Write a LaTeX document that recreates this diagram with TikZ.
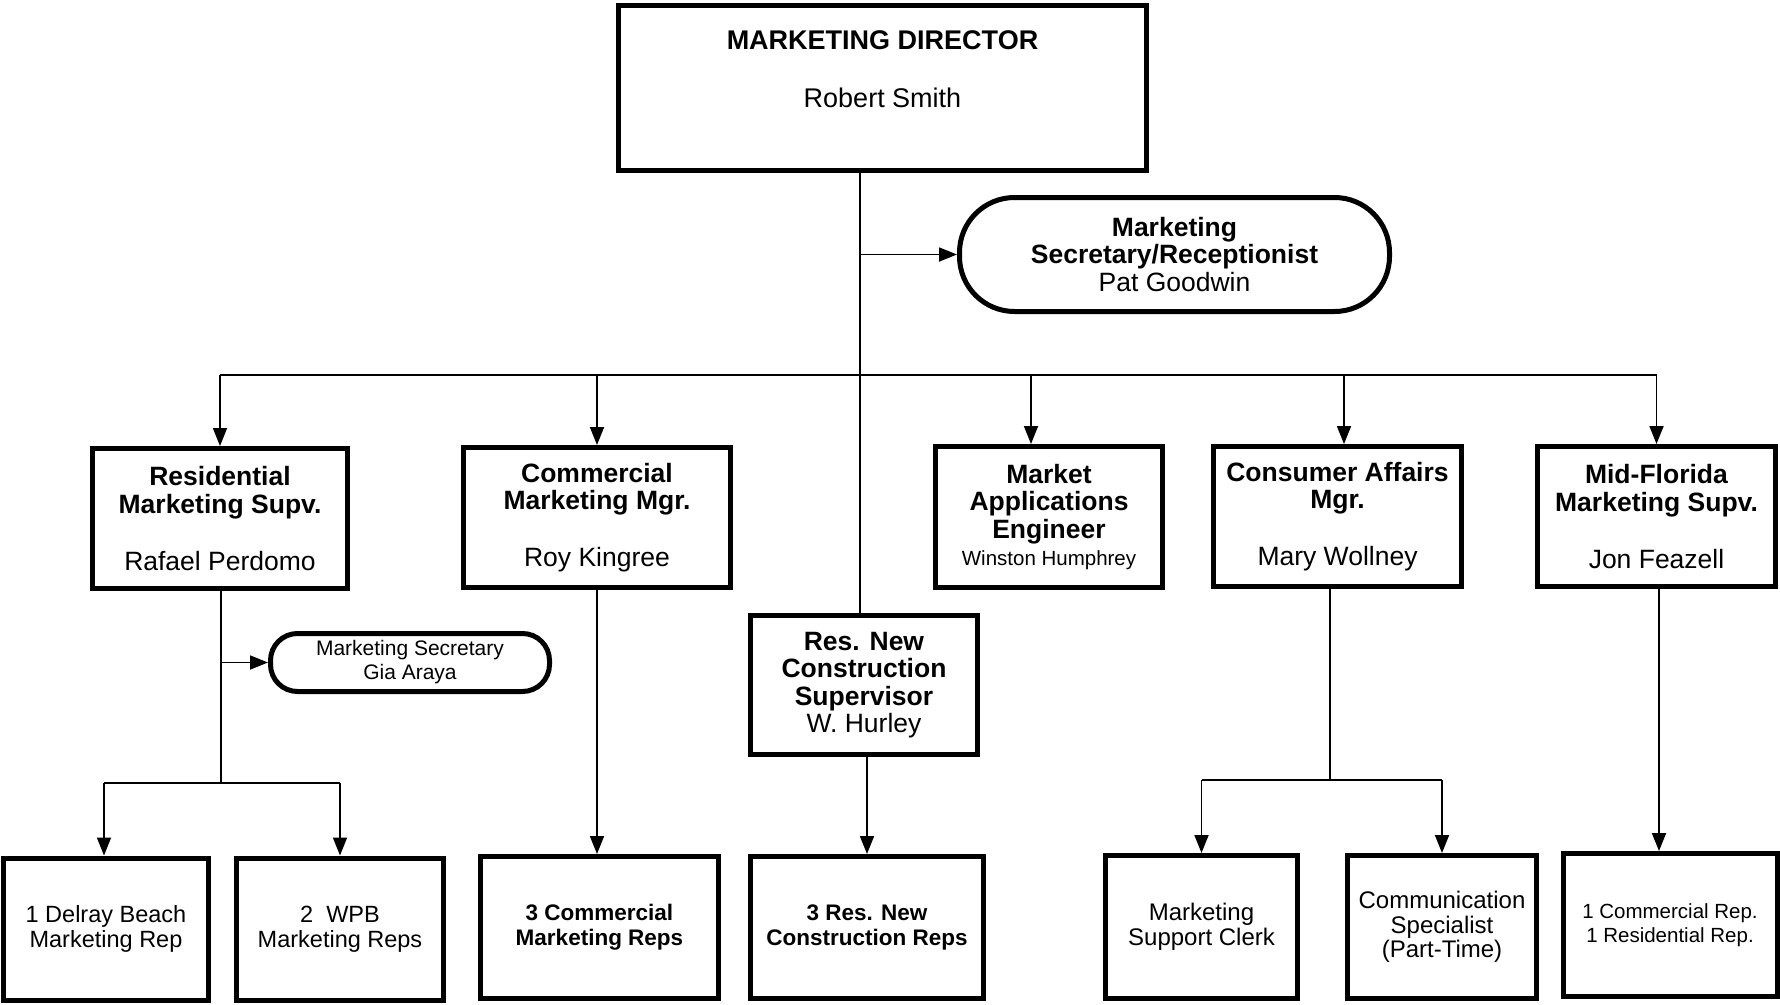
\documentclass[tikz,border=0pt]{standalone}
\usepackage{fontspec}
\setmainfont{Liberation Sans}
\usetikzlibrary{arrows.meta}

\begin{document}
\begin{tikzpicture}[x=1pt,y=-1pt,
  box/.style={draw, line width=5pt, fill=white, align=center, inner sep=0pt},
  pill/.style={draw, line width=5pt, fill=white, align=center, inner sep=0pt},
  link/.style={line width=1.8pt},
  arr/.style={link, -{Triangle[length=18pt,width=14pt]}},
  head/.style={font=\fontsize{26.5}{27.5}\selectfont},
  dirfont/.style={font=\fontsize{27}{28}\selectfont},
  smallpill/.style={font=\fontsize{21}{24}\selectfont},
  rep/.style={font=\fontsize{23.5}{25}\selectfont},
]
\useasboundingbox (0,0) rectangle (1780,1004);

% ---- top level ----
\node[box, minimum width=528pt, minimum height=165pt] (dir) at (882.5,88) {};
\node[dirfont, align=center] (dirtxt) at (882.5,69)
  {\textbf{MARKETING DIRECTOR}\\[30pt]Robert Smith};

\node[pill, rounded corners=55pt, minimum width=430pt, minimum height=114pt, head] (sec) at (1174.5,254.5)
  {\textbf{Marketing}\\\textbf{Secretary/Receptionist}\\Pat Goodwin};

% ---- second level ----
\node[box, minimum width=255pt, minimum height=140pt, head] (res) at (220,518.5)
  {\textbf{Residential}\\\textbf{Marketing Supv.}\\[29.5pt]Rafael Perdomo};
\node[box, minimum width=267pt, minimum height=140pt, head] (comm) at (597,517.5)
  {\textbf{Commercial}\\\textbf{Marketing Mgr.}\\[29.5pt]Roy Kingree};
\node[box, minimum width=227pt, minimum height=141pt, head] (mkt) at (1049,517)
  {\textbf{Market}\\\textbf{Applications}\\\textbf{Engineer}\\{\fontsize{20.5}{27}\selectfont Winston Humphrey}};
\node[box, minimum width=248pt, minimum height=140pt, head] (cons) at (1337.5,516.5)
  {\textbf{Consumer Affairs}\\\textbf{Mgr.}\\[29.5pt]Mary Wollney};
\node[box, minimum width=238pt, minimum height=140pt, head] (mid) at (1656.5,516.5)
  {\textbf{Mid-Florida}\\\textbf{Marketing Supv.}\\[29.5pt]Jon Feazell};
\node[box, minimum width=227pt, minimum height=139pt, head] (resnew) at (864,685)
  {\textbf{Res. New}\\\textbf{Construction}\\\textbf{Supervisor}\\W. Hurley};

\node[pill, rounded corners=27pt, minimum width=279pt, minimum height=58pt, smallpill] (rsec) at (410,662.5)
  {Marketing Secretary\\Gia Araya};

% ---- third level ----
\node[box, minimum width=205pt, minimum height=142pt, rep] (delray) at (106,929)
  {1 Delray Beach\\Marketing Rep};
\node[box, minimum width=207pt, minimum height=142pt, rep] (wpb) at (340,929)
  {2~~WPB\\Marketing Reps};
\node[box, minimum width=238pt, minimum height=142pt, font=\fontsize{22.5}{25}\selectfont\bfseries] (comm3) at (599.5,927.5)
  {3 Commercial\\Marketing Reps};
\node[box, minimum width=233pt, minimum height=142pt, font=\fontsize{22.5}{25}\selectfont\bfseries] (resnew3) at (867,927.5)
  {3 Res. New\\Construction Reps};
\node[box, minimum width=192pt, minimum height=143pt, font=\fontsize{24}{25}\selectfont] (clerk) at (1201.5,927)
  {Marketing\\Support Clerk};
\node[box, minimum width=189pt, minimum height=143pt, font=\fontsize{24}{24.5}\selectfont] (spec) at (1442,927)
  {Communication\\Specialist\\(Part-Time)};
\node[box, minimum width=214pt, minimum height=143pt, font=\fontsize{20.5}{24}\selectfont] (midreps) at (1670,925)
  {1 Commercial Rep.\\1 Residential Rep.};

% ---- connectors ----
\coordinate (t) at (860,0);
\coordinate (bus) at (0,375);
\draw[link] (dir.south -| t) -- (resnew.north -| t);
\draw[arr] (t |- sec.west) -- (sec.west);

\draw[link] (res.north |- bus) -- (mid.north |- bus);
\draw[arr] (res.north |- bus) -- (res.north);
\draw[arr] (comm.north |- bus) -- (comm.north);
\draw[arr] ([xshift=-18pt]mkt.north |- bus) -- ([xshift=-18pt]mkt.north);
\draw[arr] ([xshift=6.5pt]cons.north |- bus) -- ([xshift=6.5pt]cons.north);
\draw[arr] (mid.north |- bus) -- (mid.north);

% residential branch
\coordinate (rj) at (221,783);
\draw[link] (res.south -| rj) -- (rj);
\draw[arr] (rj |- rsec.west) -- (rsec.west);
\draw[link] ([xshift=-2pt]delray.north |- rj) -- (wpb.north |- rj);
\draw[arr] ([xshift=-2pt]delray.north |- rj) -- ([xshift=-2pt]delray.north);
\draw[arr] (wpb.north |- rj) -- (wpb.north);

% commercial and new construction
\draw[arr] (comm.south) -- (comm.south |- comm3.north);
\draw[arr] ([xshift=3pt]resnew.south) -- ([xshift=3pt]resnew.south |- resnew3.north);

% consumer affairs branch
\coordinate (cj) at (1330,780);
\draw[link] (cj |- cons.south) -- (cj);
\draw[link] (clerk.north |- cj) -- (spec.north |- cj);
\draw[arr] (clerk.north |- cj) -- (clerk.north);
\draw[arr] (spec.north |- cj) -- (spec.north);

% mid-florida
\draw[arr] ([xshift=2.5pt]mid.south) -- ([xshift=2.5pt]mid.south |- midreps.north);
\end{tikzpicture}
\end{document}
